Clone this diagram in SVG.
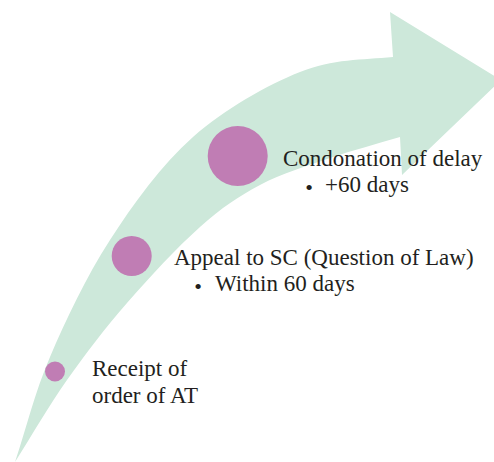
<svg xmlns="http://www.w3.org/2000/svg" width="494" height="462" viewBox="0 0 494 462">
  <style>
    .band { fill: #CDE8DA; }
    .dot { fill: #C07DB4; }
    .label { font-family: "Liberation Serif", "Times New Roman", serif; font-size: 23px; fill: #231F20; }
    .bullet { font-family: "Liberation Serif", "Times New Roman", serif; font-size: 22px; fill: #231F20; text-anchor: middle; }
  </style>
  <rect width="494" height="462" fill="#FFFFFF"/>

  <!-- curved progress arrow -->
  <g id="connectors">
    <path class="band" d="M15,462 C26.7,427 34.2,394 50,357 C65.8,320 86.2,276.7 110,240 C133.8,203.3 161.3,165 193,137 C224.7,109 266.7,85.3 300,72 C333.3,58.7 362,60 393,57 L390,12 L501,80 L402,175 L400,137 C376.7,144 353.3,150 330,158 C306.7,166 281.7,173.5 260,185 C238.3,196.5 222.2,207.3 200,227 C177.8,246.7 149.2,277.5 127,303 C104.8,328.5 85.7,353.5 67,380 C48.3,406.5 32.3,434.7 15,462 Z"/>
  </g>

  <!-- step 1 -->
  <g id="receipt">
    <circle class="dot" cx="55" cy="371.5" r="10"/>
    <text class="label" x="92" y="375.5">Receipt of</text>
    <text class="label" x="92" y="403">order of AT</text>
  </g>

  <!-- step 2 -->
  <g id="appeal">
    <circle class="dot" cx="131.7" cy="256" r="20"/>
    <text class="label" x="174" y="265">Appeal to SC (Question of Law)</text>
    <text class="bullet" x="198" y="294">•</text>
    <text class="label" x="215" y="290.5">Within 60 days</text>
  </g>

  <!-- step 3 -->
  <g id="condonation">
    <circle class="dot" cx="237.7" cy="156" r="30"/>
    <text class="label" x="283" y="165.5">Condonation of delay</text>
    <text class="bullet" x="309" y="194.5">•</text>
    <text class="label" x="325" y="191.5">+60 days</text>
  </g>
</svg>
